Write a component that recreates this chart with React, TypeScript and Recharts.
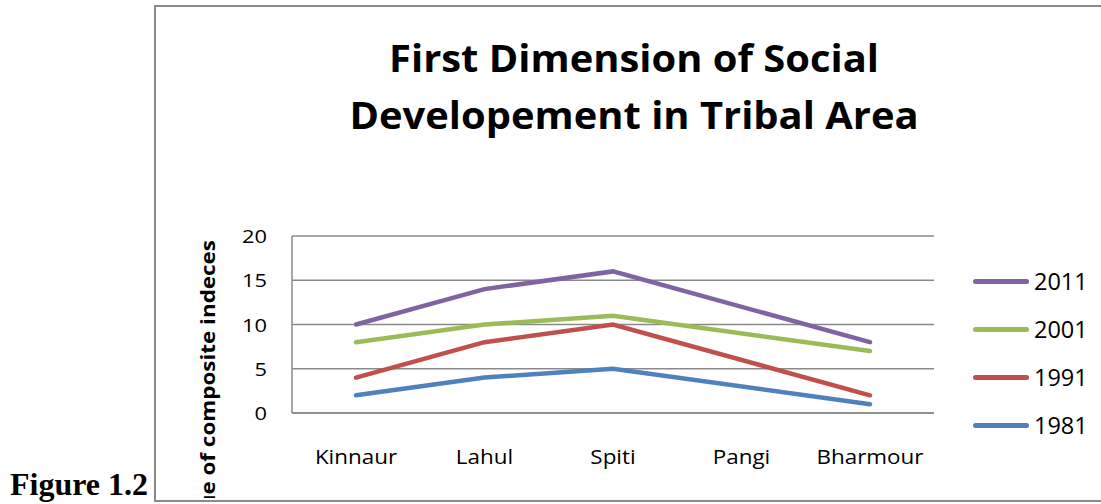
import React from 'react';
import { LineChart, Line, XAxis, YAxis, CartesianGrid } from 'recharts';

const categories = ['Kinnaur', 'Lahul', 'Spiti', 'Pangi', 'Bharmour'];
const v1981 = [2, 4, 5, null, 1];
const v1991 = [4, 8, 10, null, 2];
const v2001 = [8, 10, 11, null, 7];
const v2011 = [10, 14, 16, null, 8];
const yTicks = [0, 5, 10, 15, 20];

const seriesList = [
  { key: '1981', values: v1981, color: '#4F81BD' },
  { key: '1991', values: v1991, color: '#C0504D' },
  { key: '2001', values: v2001, color: '#9BBB59' },
  { key: '2011', values: v2011, color: '#8064A2' },
];

const data = categories.map((c, i) => {
  const row: Record<string, any> = { name: c };
  seriesList.forEach((s) => { row[s.key] = s.values[i]; });
  return row;
});

const FONT = '"Open Sans", sans-serif';
const SX = 1.15;

const XTick = (props: any) => {
  const { x, y, payload } = props;
  return (
    <text transform={`translate(${x},${y + 51}) scale(${SX},1)`} textAnchor="middle" fontFamily={FONT} fontSize={19.5} fill="#000">
      {payload.value}
    </text>
  );
};

const YTick = (props: any) => {
  const { x, y, payload } = props;
  return (
    <text transform={`translate(${x - 25},${y + 7}) scale(${SX},1)`} textAnchor="end" fontFamily={FONT} fontSize={19} fill="#000">
      {payload.value}
    </text>
  );
};

export default function App() {
  return (
    <div style={{ position: 'absolute', left: 0, top: 0, width: 1101, height: 504, overflow: 'hidden', background: '#fff' }}>
      <div style={{ position: 'absolute', left: 154, top: 5, width: 1000, height: 493, border: '2px solid #8a8a8a' }} />
      <div style={{ position: 'absolute', left: 10, top: 466, fontFamily: '"Liberation Serif", "Times New Roman", serif', fontWeight: 'bold', fontSize: 32, lineHeight: '36px', color: '#000', whiteSpace: 'nowrap' }}>Figure 1.2</div>
      <div style={{ position: 'absolute', left: 287, width: 694, top: 29, textAlign: 'center', fontFamily: FONT, fontWeight: 'bold', fontSize: 38, lineHeight: '57px', color: '#000', transform: 'scaleX(1.05)', transformOrigin: '347px 0' }}>
        First Dimension of Social<br />Developement in Tribal Area
      </div>
      <div style={{ position: 'absolute', left: 0, top: 0, width: 1101, height: 498, overflow: 'hidden' }}>
        <svg width={1101} height={498} style={{ position: 'absolute', left: 0, top: 0 }}>
          <text x={0} y={0} transform={`translate(215,240) rotate(-90) scale(${SX},1)`} textAnchor="end" fontFamily={FONT} fontWeight="bold" fontSize={19.5} fill="#000">Value of composite indeces</text>
        </svg>
        <div style={{ position: 'absolute', left: 0, top: 0 }}>
          <LineChart width={1101} height={499} data={data} margin={{ top: 236, right: 167, left: 242, bottom: 36 }}>
            <CartesianGrid vertical={false} stroke="#8a8a8a" strokeWidth={1.5} />
            <XAxis dataKey="name" height={50} padding={{ left: 64, right: 64 }} tickLine={false} tickSize={0} tickMargin={0} axisLine={{ stroke: '#8a8a8a', strokeWidth: 1.5 }} tick={<XTick />} interval={0} />
            <YAxis width={50} domain={[0, 20]} ticks={yTicks} tickLine={false} tickSize={0} tickMargin={0} axisLine={{ stroke: '#8a8a8a', strokeWidth: 1.5 }} tick={<YTick />} />
            {seriesList.map((s) => (
              <Line key={s.key} type="linear" dataKey={s.key} stroke={s.color} strokeWidth={4.5} dot={false} connectNulls isAnimationActive={false} strokeLinecap="round" />
            ))}
          </LineChart>
        </div>
      </div>
      <div style={{ position: 'absolute', left: 973, top: 257 }}>
        {[...seriesList].reverse().map((s) => (
          <div key={s.key} style={{ display: 'flex', alignItems: 'center', height: 48 }}>
            <div style={{ width: 56, height: 5, borderRadius: 3, background: s.color, marginRight: 5 }} />
            <span style={{ fontFamily: FONT, fontSize: 23.5, color: '#000', lineHeight: '48px' }}>{s.key}</span>
          </div>
        ))}
      </div>
    </div>
  );
}
